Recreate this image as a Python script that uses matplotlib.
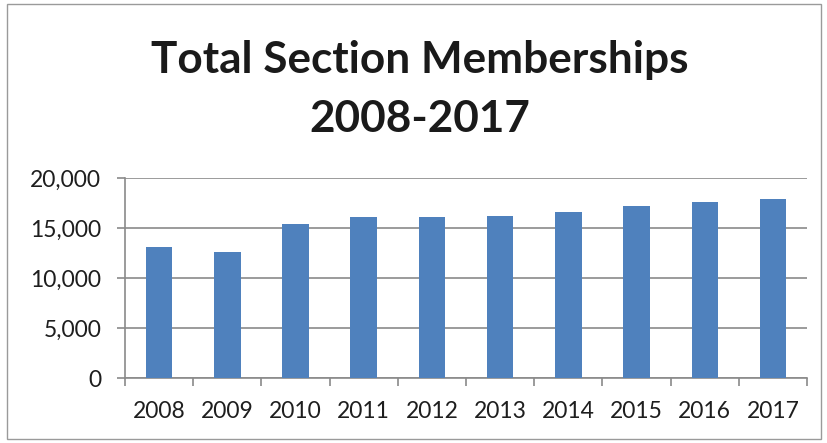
import matplotlib.pyplot as plt
from matplotlib.patches import Rectangle
from matplotlib.ticker import FuncFormatter, FixedLocator

years = ['2008', '2009', '2010', '2011', '2012', '2013', '2014', '2015', '2016', '2017']
members = [13100, 12650, 15400, 16100, 16150, 16250, 16650, 17250, 17650, 17900]

plt.rcParams['font.family'] = ['Lato', 'DejaVu Sans']

fig = plt.figure(figsize=(8.27, 4.43), dpi=100)
ax = fig.add_axes([0.151, 0.146, 0.825, 0.4515])

x = range(len(years))
ax.bar(x, members, width=0.39, color='#4f81bd', zorder=3)

ax.set_xlim(-0.5, len(years) - 0.5)
ax.set_ylim(0, 20000)
ax.set_yticks(range(0, 20001, 5000))
ax.yaxis.set_major_formatter(FuncFormatter(lambda v, p: f'{int(v):,}'))
ax.grid(axis='y', color='#8a8a8a', linewidth=1.2, zorder=0)

ax.set_xticks(list(x))
ax.set_xticklabels(years)
ax.xaxis.set_minor_locator(FixedLocator([i - 0.5 for i in range(len(years) + 1)]))
ax.tick_params(axis='x', which='major', length=0, pad=16, labelsize=16.5, colors='#1e1e1e')
ax.tick_params(axis='x', which='minor', length=6, color='#8a8a8a', width=1.2)
ax.tick_params(axis='y', length=6, color='#8a8a8a', width=1.2, labelsize=16.5,
               labelcolor='#1e1e1e', pad=11)

for s in ['top', 'right']:
    ax.spines[s].set_visible(False)
for s in ['left', 'bottom']:
    ax.spines[s].set_color('#8a8a8a')
    ax.spines[s].set_linewidth(1.2)

fig.text(0.508, 1 - 73 / 443, 'Total Section Memberships', ha='center', va='baseline',
         fontsize=31.8, fontweight='bold', color='#1a1a1a')
fig.text(0.508, 1 - 132 / 443, '2008-2017', ha='center', va='baseline',
         fontsize=31.8, fontweight='bold', color='#1a1a1a')

fig.patches.append(Rectangle((0.008, 0.008), 0.985, 0.982, transform=fig.transFigure,
                             fill=False, edgecolor='#9a9a9a', linewidth=1))

fig.savefig('out.png', dpi=100)
